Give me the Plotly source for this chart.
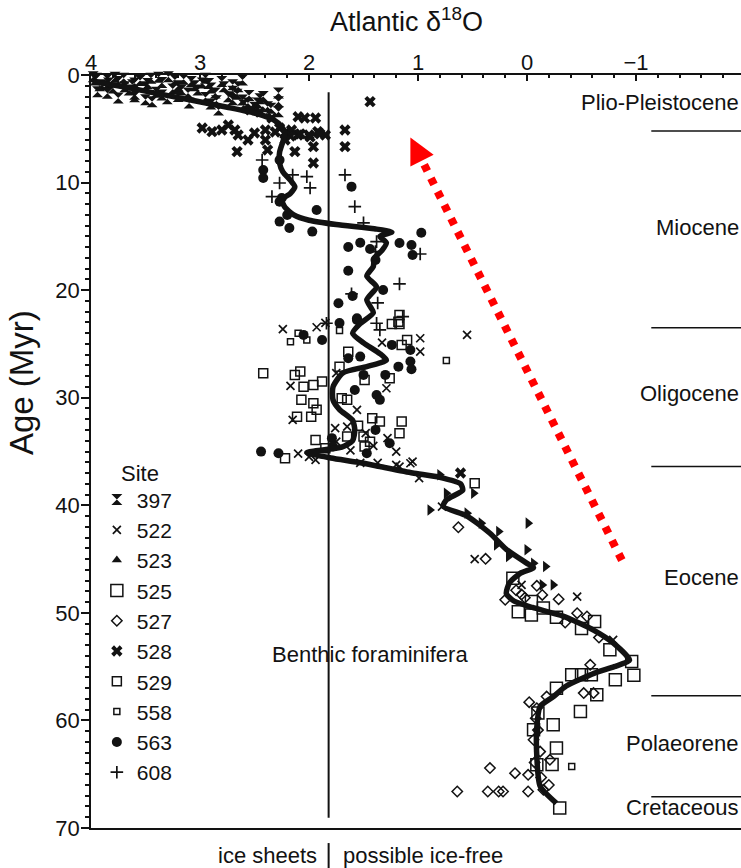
import plotly.graph_objects as go

# ---------------- data ----------------
# Smoothed benthic curve: age (Myr) and Atlantic d18O
curve_age = [0.6, 1.2, 1.8, 2.4, 3.0, 3.6, 4.2, 4.8, 5.4, 6.2, 7.2, 8.2, 9.0, 9.8, 10.4, 11.0,
             11.6, 12.3, 13.0, 13.5, 13.9, 14.3, 14.6, 15.0, 15.6, 16.3, 17.0, 17.8, 18.7, 19.7,
             20.9, 22.1, 23.1, 24.0, 24.9, 25.9, 26.5, 27.1, 27.7, 29.0, 30.2, 31.1, 32.1, 33.0,
             34.0, 34.6, 35.1, 35.6, 36.0, 36.4, 37.0, 37.4, 38.0, 38.6, 39.5, 40.1, 41.0, 42.6,
             44.1, 45.4, 45.8, 46.3, 47.2, 48.2, 48.9, 49.5, 50.3, 51.6, 52.8, 54.4, 55.0, 55.6,
             56.8, 57.8, 58.7, 60.6, 63.4, 66.1, 67.7]
curve_d18o = [3.98, 3.65, 3.35, 3.05, 2.75, 2.48, 2.32, 2.25, 2.22, 2.24, 2.27, 2.27, 2.24, 2.17,
              2.13, 2.17, 2.25, 2.22, 2.14, 2.0, 1.75, 1.40, 1.24, 1.35, 1.29, 1.33, 1.40, 1.41,
              1.47, 1.38, 1.47, 1.41, 1.53, 1.60, 1.50, 1.35, 1.29, 1.47, 1.69, 1.78, 1.78, 1.72,
              1.60, 1.58, 1.60, 1.70, 2.02, 1.80, 1.55, 1.35, 1.05, 0.80, 0.61, 0.59, 0.74, 0.77,
              0.55, 0.34, 0.19, 0.0, -0.06, 0.06, 0.16, 0.19, 0.12, -0.05, -0.33, -0.61, -0.79,
              -0.94, -0.80, -0.62, -0.36, -0.24, -0.12, -0.09, -0.09, -0.12, -0.27]

site_397_d18o = [3.98, 3.96, 3.84, 3.94, 3.69, 3.60, 3.75, 3.60, 3.44, 3.35, 3.29, 3.23, 3.17, 3.11,
                 3.02, 2.98, 2.86, 2.83, 2.74, 2.65, 2.61, 2.61, 2.56, 2.47, 2.38, 2.28, 2.28, 2.28,
                 3.95, 3.90, 3.85, 3.80, 3.75, 3.70, 3.65, 3.55, 3.50, 3.45, 3.40, 3.35, 3.25, 3.15,
                 3.05, 2.95, 2.90, 2.80, 2.70, 2.70, 2.95, 2.85, 2.70, 2.60, 2.50, 2.45, 2.35, 3.60,
                 3.30, 3.10, 3.85, 3.50, 3.20, 2.90, 3.92, 3.78, 3.62, 3.48, 3.38, 3.20, 3.08,
                 2.92, 2.78, 2.66, 2.55, 2.42]
site_397_age = [0.16, 0.46, 0.74, 1.55, 1.09, 0.74, 2.14, 2.02, 2.48, 1.86, 0.16, 0.46, 1.39, 1.67,
                1.39, 0.74, 1.67, 3.25, 2.02, 1.09, 0.46, 2.32, 2.60, 2.60, 2.95, 1.67, 2.48, 3.41,
                0.3, 0.9, 0.4, 1.2, 0.6, 0.3, 1.4, 0.5, 1.1, 0.3, 1.6, 0.7, 1.3, 0.4,
                1.0, 0.3, 1.2, 0.6, 1.5, 0.9, 2.1, 2.4, 2.3, 2.8, 3.0, 2.2, 3.1, 1.8,
                2.2, 2.6, 1.7, 2.3, 2.0, 2.7, 1.0, 0.2, 0.9, 0.8, 0.2, 1.0, 0.6,
                0.8, 1.1, 1.8, 1.9, 2.0]

site_522_d18o = [2.24, 1.93, 1.85, 1.33, 0.98, 0.98, 2.17, 1.29, 2.15, 1.28, 1.20, 1.41, 1.17, 1.05,
                 1.37, 1.53, 1.94, 1.76, 1.75, 1.65, 1.56, 1.75, 1.20, 1.07, 0.99, 0.78, 0.48, 0.05,
                 -0.46, -0.79, 0.55, 2.10, 2.00, 1.48, 1.62]
site_522_age = [23.63, 23.45, 23.05, 24.88, 24.47, 25.72, 28.90, 29.12, 32.06, 33.76, 35.01, 34.48,
                36.40, 35.94, 36.06, 36.06, 35.78, 32.83, 34.08, 32.69, 31.13, 27.72, 36.25, 36.09,
                37.48, 40.12, 45.01, 47.40, 48.49, 52.51, 24.16, 35.2, 35.5, 33.3, 34.9]

site_523_d18o = [0.80, 0.74, 0.49, 0.89, 0.55, 0.42, 0.26, 0.28, 0.17, -0.01, 0.00, -0.06, -0.17,
                 -0.14, -0.24]
site_523_age = [37.17, 38.88, 38.88, 40.43, 40.73, 41.66, 42.44, 43.68, 44.77, 41.66, 44.14, 45.38,
                45.70, 47.40, 47.40]

site_525_d18o = [0.13, -0.04, -0.27, -0.62, -0.50, -0.76, -0.96, -0.98, -0.81, -0.59, -0.50, -0.41,
                 -0.27, -0.64, -0.49, -0.10, -0.24, -0.06, -0.27, -0.23, -0.09, -0.30, -0.15, -0.04,
                 0.08]
site_525_age = [46.78, 50.19, 50.4, 50.8, 51.45, 53.44, 54.53, 55.80, 56.23, 55.76, 55.76, 55.76,
                57.00, 57.62, 59.17, 59.32, 60.40, 60.87, 62.57, 64.10, 64.13, 68.15, 49.56, 48.95,
                49.9]

site_527_d18o = [0.63, 0.38, 0.20, -0.29, -0.58, -0.18, -0.52, -0.61, -0.09, 0.34, 0.11, -0.01, 0.64,
                 0.36, 0.26, 0.22, -0.01, -0.15, -0.21, -0.46, -0.55, -0.09, -0.14, -0.08, -0.10,
                 -0.06, -0.12, -0.07, -0.13, -0.20, -0.02, 0.05, 0.10, 0.02, -0.35, -0.66]
site_527_age = [42.04, 44.98, 48.79, 48.73, 54.83, 57.78, 57.46, 57.46, 58.86, 64.43, 64.90, 65.06,
                66.61, 66.61, 66.61, 66.61, 66.61, 66.45, 63.66, 50.03, 50.34, 47.49, 48.33, 59.8,
                60.9, 61.8, 62.9, 63.9, 65.3, 66.0, 58.3, 48.3, 47.9, 48.6, 50.9, 52.3]

site_528_d18o = [2.98, 2.89, 2.80, 2.74, 2.68, 2.65, 2.56, 2.50, 2.40, 2.40, 2.38, 2.66, 2.22, 2.16,
                 2.10, 2.04, 1.94, 2.10, 2.00, 1.92, 1.85, 2.13, 1.96, 1.96, 1.67, 1.67, 1.44, 2.31,
                 2.17, 2.08, 1.99, 1.90, 2.27, 2.22, 2.54, 2.45, 2.34, 0.61]
site_528_age = [4.93, 5.27, 5.11, 4.65, 5.11, 5.58, 6.04, 5.39, 5.11, 6.04, 6.97, 7.13, 5.39, 5.11,
                3.88, 4.00, 4.00, 5.58, 5.58, 5.27, 5.58, 7.13, 6.66, 8.18, 5.11, 6.66, 2.48, 5.3,
                5.67, 5.48, 5.76, 5.48, 4.93, 6.04, 3.25, 3.44, 4.0, 37.0]

site_529_d18o = [2.42, 2.13, 2.08, 2.05, 1.96, 1.88, 2.07, 1.96, 1.93, 1.98, 2.11, 1.94, 1.85, 2.22,
                 1.64, 1.72, 1.70, 1.65, 1.49, 1.26, 1.42, 1.35, 1.15, 1.17, 1.50, 1.49, 1.65, 1.24,
                 1.17, 1.10, 1.15, 1.18, 1.17, 0.48, 1.55, 1.44]
site_529_age = [27.72, 27.88, 27.57, 28.97, 28.81, 28.50, 30.20, 30.51, 31.13, 31.76, 31.76, 33.92,
                34.69, 35.62, 25.72, 27.11, 30.05, 30.20, 28.35, 28.19, 31.91, 32.22, 32.22, 33.30,
                33.61, 34.54, 33.61, 23.14, 23.14, 24.63, 25.09, 22.93, 22.30, 37.95, 32.6, 34.1]

site_558_d18o = [2.17, 2.10, 2.02, 1.72, 0.74, -0.41]
site_558_age = [24.79, 24.01, 24.63, 23.76, 26.55, 64.28]

site_563_d18o = [2.27, 2.42, 2.42, 2.25, 2.20, 2.27, 2.18, 1.97, 1.93, 1.61, 2.27, 0.97, 1.64, 1.53,
                 1.44, 1.17, 1.06, 1.05, 1.64, 1.39, 1.32, 1.60, 1.73, 1.56, 1.72, 2.05, 1.88, 1.56,
                 1.24, 1.07, 1.07, 1.06, 1.18, 1.30, 1.50, 1.58, 1.38, 1.35, 1.53, 1.64, 1.26, 1.39,
                 1.79, 1.78, 1.47, 2.44, 2.28]
site_563_age = [7.90, 8.83, 9.57, 11.43, 13.01, 13.63, 14.22, 14.56, 12.55, 10.38, 11.78, 14.66,
                15.99, 15.59, 16.17, 15.61, 15.80, 16.73, 18.19, 17.19, 19.98, 20.54, 21.22, 22.61,
                23.05, 24.16, 24.63, 22.77, 25.09, 25.56, 26.64, 27.35, 27.11, 27.88, 27.88, 29.28,
                29.74, 30.20, 26.18, 26.33, 34.23, 32.99, 33.76, 34.54, 35.16, 35.01, 35.16]

site_608_d18o = [2.43, 2.34, 2.27, 2.15, 2.02, 1.99, 1.67, 1.58, 1.50, 1.39, 1.38, 0.98, 1.17, 1.37,
                 1.61, 1.14, 1.35, 1.38, 1.84]
site_608_age = [7.90, 11.31, 10.04, 9.29, 9.45, 10.50, 9.29, 12.24, 13.75, 16.42, 15.49, 16.64, 19.42,
                21.19, 20.35, 22.46, 23.70, 23.08, 23.08]

# Epochs: label, label age, boundary ages
epoch_names = ["Plio-Pleistocene", "Miocene", "Oligocene", "Eocene", "Polaeorene", "Cretaceous"]
epoch_label_age = [2.6, 14.2, 29.6, 46.7, 62.1, 68.1]
epoch_bounds = [5.2, 23.5, 36.4, 57.7, 67.1]

x_ticks = [4, 3, 2, 1, 0, -1]
y_ticks = [0, 10, 20, 30, 40, 50, 60, 70]
ice_threshold = 1.82           # vertical line separating ice sheets / possible ice-free
arrow_tail = (-0.87, 45.1)     # red dotted arrow (d18O, age)
arrow_tip = (1.07, 5.8)
arrow_base = (0.99, 7.4)

# ---------------- figure ----------------
INK = "#121212"
FONT = "Liberation Sans, Arial, Helvetica, sans-serif"
X_RANGE = [4.0, -1.963]

fig = go.Figure()

def add_site(name, d, a, symbol, size, lw=0.0, show=True):
    fig.add_trace(go.Scatter(
        x=d, y=a, mode="markers", name=name, showlegend=show, cliponaxis=False,
        marker=dict(symbol=symbol, size=size, color=INK, line=dict(color=INK, width=lw))))

add_site("397", site_397_d18o, site_397_age, "hourglass", 11)
add_site("522", site_522_d18o, site_522_age, "x-thin-open", 8, 1.7)
# legend entry for 523 uses the upward triangle as in the reference key
fig.add_trace(go.Scatter(x=[None], y=[None], mode="markers", name="523",
                         marker=dict(symbol="triangle-up", size=9, color=INK)))
add_site("525", site_525_d18o, site_525_age, "square-open", 12, 1.5)
add_site("527", site_527_d18o, site_527_age, "diamond-open", 8, 1.5)
add_site("528", site_528_d18o, site_528_age, "x", 10)
add_site("529", site_529_d18o, site_529_age, "square-open", 9, 1.5)
add_site("558", site_558_d18o, site_558_age, "square-open", 6, 1.5)
add_site("563", site_563_d18o, site_563_age, "circle", 10)
add_site("608", site_608_d18o, site_608_age, "cross-thin-open", 9, 1.7)
add_site("523", site_523_d18o, site_523_age, "triangle-right", 10, show=False)

fig.add_trace(go.Scatter(x=curve_d18o, y=curve_age, mode="lines", showlegend=False,
                         line=dict(color=INK, width=5.5, shape="spline", smoothing=0.6)))

# vertical ice threshold line
fig.add_shape(type="line", xref="x", yref="y", x0=ice_threshold, x1=ice_threshold,
              y0=1.6, y1=69.05, line=dict(color=INK, width=2))
# separator under the axis
fig.add_shape(type="line", xref="x", yref="paper", x0=ice_threshold, x1=ice_threshold,
              y0=-0.02, y1=-0.056, line=dict(color=INK, width=2))

# epoch boundaries
for b in epoch_bounds:
    fig.add_shape(type="line", xref="x", yref="y", x0=-1.14, x1=X_RANGE[1], y0=b, y1=b,
                  line=dict(color=INK, width=1.5))
for name, ag in zip(epoch_names, epoch_label_age):
    fig.add_annotation(x=1.0, xref="paper", y=ag, yref="y", text=name, showarrow=False,
                       xanchor="right", yanchor="middle", font=dict(size=22, color=INK))

# red dotted arrow
fig.add_shape(type="line", xref="x", yref="y", x0=arrow_tail[0], y0=arrow_tail[1],
              x1=arrow_base[0], y1=arrow_base[1],
              line=dict(color="#ff0000", width=8, dash="7px,8px"))
fig.add_annotation(x=arrow_tip[0], y=arrow_tip[1], xref="x", yref="y", ax=9, ay=18,
                   showarrow=True, arrowhead=2, arrowsize=1, arrowwidth=5.2,
                   arrowcolor="#ff0000", text="")

# texts
fig.add_annotation(x=1.44, y=53.9, xref="x", yref="y", text="Benthic foraminifera",
                   showarrow=False, font=dict(size=22, color=INK))
fig.add_annotation(x=ice_threshold, y=-0.036, xref="x", yref="paper", text="ice sheets",
                   showarrow=False, xanchor="right", yanchor="middle", xshift=-10,
                   font=dict(size=22, color=INK))
fig.add_annotation(x=ice_threshold, y=-0.036, xref="x", yref="paper", text="possible ice-free",
                   showarrow=False, xanchor="left", yanchor="middle", xshift=12,
                   font=dict(size=22, color=INK))
fig.add_annotation(x=0.075, y=0.4714, xref="paper", yref="paper", text="Site",
                   showarrow=False, xanchor="center", yanchor="middle",
                   font=dict(size=22, color=INK))
# axis titles
fig.add_annotation(x=0.486, y=1.073, xref="paper", yref="paper", text="Atlantic δ<sup>18</sup>O",
                   showarrow=False, xanchor="center", yanchor="middle",
                   font=dict(size=27, color=INK))
fig.add_annotation(x=-0.106, y=0.591, xref="paper", yref="paper", text="Age (Myr)",
                   textangle=-90, showarrow=False, xanchor="center", yanchor="middle",
                   font=dict(size=33, color=INK))

fig.update_layout(
    width=741, height=868,
    margin=dict(l=91, r=0, t=75, b=40, autoexpand=False),
    paper_bgcolor="white", plot_bgcolor="white",
    font=dict(family=FONT, size=22, color=INK),
    legend=dict(x=0.009, y=0.463, xanchor="left", yanchor="top", bgcolor="rgba(0,0,0,0)",
                font=dict(size=21, color=INK), itemsizing="trace"),
    xaxis=dict(side="top", range=X_RANGE, tickvals=x_ticks, ticks="inside", ticklen=6,
               tickwidth=1.5, tickcolor=INK, showline=True, linewidth=1.5, linecolor=INK,
               mirror=True, showgrid=False, zeroline=False, automargin=False,
               ticklabelstandoff=-6,
               minor=dict(dtick=0.2, ticks="inside", ticklen=3, tickcolor=INK, showgrid=False),
               tickfont=dict(size=22)),
    yaxis=dict(range=[70, 0], tickvals=y_ticks, ticks="outside", ticklen=8, tickwidth=1.5,
               tickcolor=INK, showline=True, linewidth=1.5, linecolor=INK, showgrid=False,
               zeroline=False, automargin=False, ticklabelstandoff=-3,
               minor=dict(dtick=1, ticks="outside", ticklen=4, tickcolor=INK, showgrid=False),
               tickfont=dict(size=22)),
)

fig.write_html("out.html", config={"displayModeBar": False},
               post_script="document.body.style.margin='0px';")
